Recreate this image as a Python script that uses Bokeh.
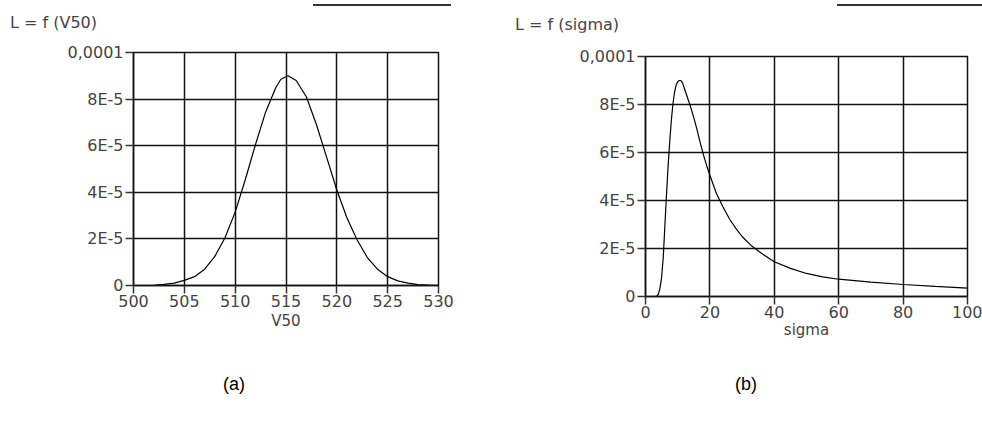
from bokeh.plotting import figure
from bokeh.models import Range1d, FixedTicker, Div
from bokeh.layouts import row, column
from bokeh.embed import file_html
from bokeh.resources import INLINE

# ---- data: panel (a) ----
v50 = [500, 501, 502, 503, 504, 505, 506, 507, 508, 509, 510, 511, 512, 513, 514,
       514.5, 515.2, 516, 517, 518, 519, 520, 521, 522, 523, 524, 525, 526, 527,
       528, 529, 530]
L_v50 = [0.0, 0.0, 0.01e-5, 0.05e-5, 0.1e-5, 0.22e-5, 0.38e-5, 0.7e-5, 1.25e-5,
         2.05e-5, 3.15e-5, 4.55e-5, 6.05e-5, 7.45e-5, 8.5e-5, 8.85e-5, 9.0e-5,
         8.8e-5, 8.1e-5, 6.9e-5, 5.5e-5, 4.1e-5, 2.9e-5, 1.95e-5, 1.2e-5, 0.7e-5,
         0.38e-5, 0.2e-5, 0.1e-5, 0.04e-5, 0.02e-5, 0.01e-5]

# ---- data: panel (b) ----
sigma = [0, 1, 2, 3, 3.5, 4, 4.5, 5, 5.5, 6, 6.5, 7, 7.5, 8, 8.5, 9, 9.5, 10, 10.5,
         11, 11.5, 12, 13, 14, 15, 16, 17, 18, 19, 20, 22, 24, 26, 28, 30, 33, 36,
         40, 45, 50, 55, 60, 70, 80, 90, 100]
L_sigma = [0.0, 0.0, 0.0, 0.0, 0.02e-5, 0.1e-5, 0.35e-5, 0.8e-5, 1.6e-5, 2.9e-5,
           4.2e-5, 5.4e-5, 6.4e-5, 7.3e-5, 8.0e-5, 8.5e-5, 8.8e-5, 8.95e-5, 9.0e-5,
           9.0e-5, 8.9e-5, 8.7e-5, 8.3e-5, 7.9e-5, 7.45e-5, 6.95e-5, 6.4e-5, 5.9e-5,
           5.45e-5, 5.05e-5, 4.3e-5, 3.75e-5, 3.25e-5, 2.85e-5, 2.5e-5, 2.1e-5,
           1.8e-5, 1.45e-5, 1.17e-5, 0.96e-5, 0.82e-5, 0.72e-5, 0.6e-5, 0.5e-5,
           0.42e-5, 0.35e-5]

# ---- ticks / texts ----
y_ticks = [0, 2e-5, 4e-5, 6e-5, 8e-5, 1e-4]
y_tick_labels = ["0", "2E-5", "4E-5", "6E-5", "8E-5", "0,0001"]
x_ticks_a = [500, 505, 510, 515, 520, 525, 530]
x_ticks_b = [0, 20, 40, 60, 80, 100]

titles = ["L = f (V50)", "L = f (sigma)"]
x_labels = ["V50", "sigma"]
panel_tags = ["(a)", "(b)"]

FONT = "DejaVu Sans"
TXT = "#444444"
TOP_H = 32
FIG_H = 338
BOT_H = 421 - TOP_H - FIG_H


def make_panel(w, bl, br, bt, fh, xr, x_ticks, xs, ys, xlabel, lab_standoff):
    p = figure(width=w, height=FIG_H, output_backend="svg", toolbar_location=None,
               x_range=Range1d(*xr), y_range=Range1d(0, 1e-4),
               min_border_left=bl, min_border_right=br,
               min_border_top=bt, min_border_bottom=FIG_H - bt - fh)
    p.background_fill_color = "white"
    p.border_fill_color = "white"
    p.outline_line_color = "#111111"
    p.outline_line_width = 1.5

    p.line(xs, ys, line_color="black", line_width=1.2)

    p.xaxis.ticker = FixedTicker(ticks=x_ticks)
    p.yaxis.ticker = FixedTicker(ticks=y_ticks)
    p.yaxis.major_label_overrides = {t: s for t, s in zip(y_ticks, y_tick_labels)}
    for ax in (p.xaxis[0], p.yaxis[0]):
        ax.axis_line_color = "#111111"
        ax.axis_line_width = 1.5
        ax.major_tick_line_color = "#333333"
        ax.major_tick_line_width = 1.5
        ax.major_tick_out = 8
        ax.major_tick_in = 0
        ax.minor_tick_line_color = None
        ax.major_label_text_font = FONT
        ax.major_label_text_font_size = "16px"
        ax.major_label_text_color = TXT
        ax.major_label_standoff = 2
    p.xaxis.major_label_standoff = 1
    p.xaxis.axis_label = xlabel
    p.xaxis.axis_label_text_font = FONT
    p.xaxis.axis_label_text_font_size = "15px"
    p.xaxis.axis_label_text_font_style = "normal"
    p.xaxis.axis_label_text_color = TXT
    p.xaxis.axis_label_standoff = lab_standoff

    for g in (p.xgrid[0], p.ygrid[0]):
        g.grid_line_color = "#111111"
        g.grid_line_width = 1.5
    return p


# left panel: canvas x 0..490, frame x 133..438, y 52..285
p1 = make_panel(490, 133, 52, 52 - TOP_H, 233, (500, 530), x_ticks_a, v50, L_v50,
                x_labels[0], 2)
# right panel: canvas x 490..982, frame x 645..967, y 56..296
p2 = make_panel(492, 155, 15, 56 - TOP_H, 240, (0, 100), x_ticks_b, sigma, L_sigma,
                x_labels[1], 0)

abs_txt = ("position:absolute;white-space:nowrap;line-height:1;font-family:'DejaVu Sans';"
           "font-size:16px;color:%s;" % TXT)
top_html = (
    '<div style="position:relative;width:982px;height:%dpx;">' % TOP_H
    + '<div style="position:absolute;left:313px;top:4px;width:138px;height:2px;background:#333;"></div>'
    + '<div style="position:absolute;left:837px;top:4px;width:145px;height:2px;background:#333;"></div>'
    + '<div style="%sleft:10px;top:15px;">%s</div>' % (abs_txt, titles[0])
    + '<div style="%sleft:515px;top:17px;">%s</div>' % (abs_txt, titles[1])
    + '</div>'
)
tag_top = 375 - TOP_H - FIG_H
tag_txt = ("position:absolute;white-space:nowrap;line-height:1;"
           "font-family:'Liberation Sans';font-size:18px;color:#000;")
bot_html = (
    '<div style="position:relative;width:982px;height:%dpx;">' % BOT_H
    + '<div style="%sleft:223px;top:%dpx;">%s</div>' % (tag_txt, tag_top, panel_tags[0])
    + '<div style="%sleft:735px;top:%dpx;">%s</div>' % (tag_txt, tag_top, panel_tags[1])
    + '</div>'
)
top_div = Div(text=top_html, width=982, height=TOP_H, margin=(0, 0, 0, 0))
bot_div = Div(text=bot_html, width=982, height=BOT_H, margin=(0, 0, 0, 0))

layout = column(top_div, row(column(p1), column(p2), spacing=0), bot_div, spacing=0)
open("out.html", "w").write(file_html(layout, INLINE))
